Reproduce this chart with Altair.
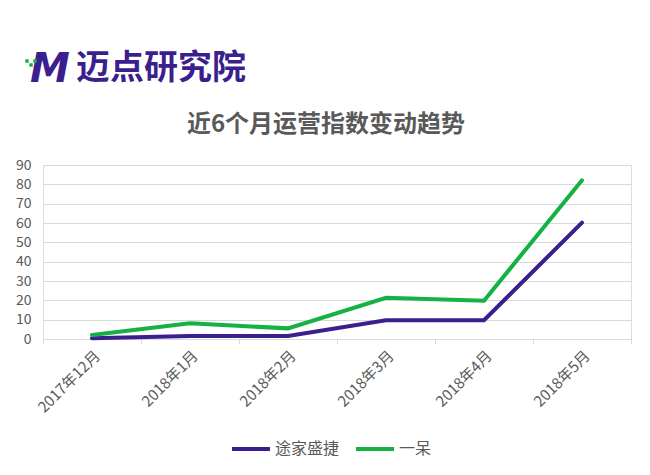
import altair as alt
import pandas as pd

months = ["2017年12月", "2018年1月", "2018年2月", "2018年3月", "2018年4月", "2018年5月"]
series_a_name = "途家盛捷"
series_b_name = "一呆"
series_a = [0.4, 1.6, 1.6, 9.7, 9.7, 60.2]
series_b = [2.1, 8.1, 5.5, 21.3, 19.8, 82.1]

rows = []
for m, a, b in zip(months, series_a, series_b):
    rows.append({"month": m, "series": series_a_name, "value": a})
    rows.append({"month": m, "series": series_b_name, "value": b})
df = pd.DataFrame(rows)

FONT = "Noto Sans CJK SC"
GRAY = "#595959"
PURPLE = "#3b1f8e"
GREEN = "#14b244"

lines = alt.Chart(df).mark_line(strokeWidth=4, strokeCap="round", strokeJoin="miter").encode(
    x=alt.X("month:N", sort=months, bandPosition=0.5,
            scale=alt.Scale(type="band", paddingInner=0, paddingOuter=0),
            axis=alt.Axis(title=None, labelAngle=-45, labelFont=FONT, labelFontSize=15,
                          labelColor=GRAY, domainColor="#d9d9d9", tickColor="#d9d9d9",
                          tickBand="extent", tickSize=5, grid=False, labelPadding=4)),
    y=alt.Y("value:Q", scale=alt.Scale(domain=[0, 90], nice=False),
            axis=alt.Axis(title=None, values=list(range(0, 91, 10)), labelFont=FONT,
                          labelFontSize=14, labelColor=GRAY, domain=False, ticks=False,
                          gridColor="#d9d9d9", gridWidth=1, labelPadding=12)),
    color=alt.Color("series:N", sort=[series_a_name, series_b_name],
                    scale=alt.Scale(domain=[series_a_name, series_b_name], range=[PURPLE, GREEN]),
                    legend=alt.Legend(title=None, orient="none", direction="horizontal",
                                      legendX=187, legendY=263, symbolType="stroke",
                                      symbolStrokeWidth=4, symbolSize=1444,
                                      labelFont=FONT, labelFontSize=16, labelColor=GRAY,
                                      columnPadding=8, labelOffset=3)),
)

logo_m = alt.Chart(pd.DataFrame({"t": ["M"]})).mark_text(
    font="DejaVu Sans", fontSize=40, fontWeight="bold", color=PURPLE, align="center",
    baseline="middle", fontStyle="italic"
).encode(x=alt.value(7), y=alt.value(-95), text="t:N")

logo_txt = alt.Chart(pd.DataFrame({"t": ["迈点研究院"]})).mark_text(
    font=FONT, fontSize=34, fontWeight="bold", color=PURPLE, align="left", baseline="middle"
).encode(x=alt.value(33), y=alt.value(-96), text="t:N")

dot_x = [-16, -12, -8]
dot_y = [-104, -100, -104]
dots = alt.Chart(pd.DataFrame({"dx": dot_x, "dy": dot_y})).mark_square(
    color=GREEN, size=12, opacity=1
).encode(
    x=alt.X("dx:Q", scale=None, axis=None),
    y=alt.Y("dy:Q", scale=None, axis=None),
)

title = alt.Chart(pd.DataFrame({"t": ["近6个月运营指数变动趋势"]})).mark_text(
    font=FONT, fontSize=24, fontWeight="bold", color=GRAY, align="center", baseline="middle"
).encode(x=alt.value(283), y=alt.value(-40), text="t:N")

chart = alt.layer(lines, logo_m, logo_txt, dots, title).properties(
    width=588, height=174,
    autosize=alt.AutoSizeParams(type="none"),
    padding={"left": 35, "top": 157, "right": 11, "bottom": 128},
).configure_view(stroke=None).configure(background="white")

chart.save("out.html", embed_options={"renderer": "svg", "actions": False})
